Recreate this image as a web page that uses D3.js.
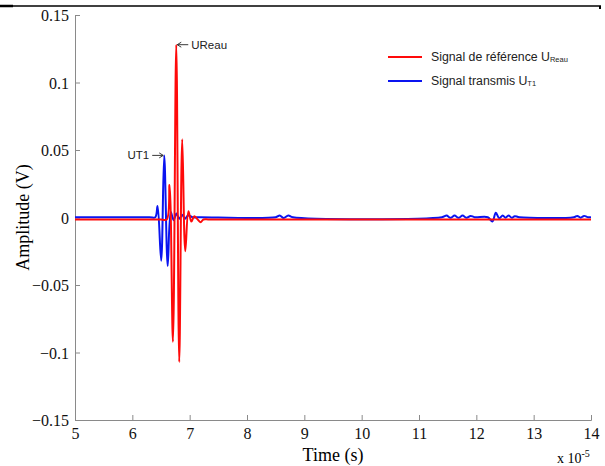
<!DOCTYPE html>
<html>
<head>
<meta charset="utf-8">
<script src="https://cdn.jsdelivr.net/npm/d3@7"></script>
<style>
  body { margin: 0; background: #fff; }
  svg { display: block; }
</style>
</head>
<body>
<div id="chart"></div>
<script>
// Reference signal (red), time in units of 1e-5 s
const refTime = [5, 6.5, 6.6, 6.649, 6.708, 6.766, 6.818, 6.87, 6.923, 6.978, 7.03, 7.08, 7.13, 7.19, 7.24, 7.35, 14];
const refAmp = [-0.0015, -0.0015, -0.0015, 0.024, -0.092, 0.128, -0.107, 0.058, -0.025, 0.0047, -0.003, 0.001, -0.001, -0.0035, -0.0015, -0.0015, -0.0015];

// Transmitted signal (blue)
const trTime = [5, 6.3, 6.4, 6.44, 6.503, 6.556, 6.617, 6.67, 6.72, 6.77, 6.82, 6.87, 6.92, 6.97, 7.05, 7.2,
  8.5, 8.57, 8.64, 8.72, 8.8,
  11.4, 11.48, 11.55, 11.62, 11.69, 11.76, 11.83, 11.9, 11.97,
  12.2, 12.28, 12.34, 12.4, 12.46, 12.51, 12.56, 12.62, 12.67, 12.75,
  13.7, 13.76, 13.82, 13.88, 13.95, 14];
const trAmp = [0.0002, 0.0002, 0.0002, 0.0085, -0.032, 0.046, -0.036, 0.004, -0.002, 0.003, -0.001, 0.002, -0.001, 0.0015, 0.0002, 0.0002,
  0.0002, 0.0015, -0.0004, 0.0015, 0.0002,
  0.0002, 0.0014, -0.0002, 0.0014, -0.0002, 0.0014, -0.0002, 0.0012, 0.0002,
  0.0002, -0.003, 0.0035, -0.0006, 0.0015, -0.0002, 0.0015, -0.0002, 0.001, 0.0002,
  0.0002, 0.0012, -0.0002, 0.0012, 0.0002, 0.0002];

const xTicks = [5, 6, 7, 8, 9, 10, 11, 12, 13, 14];
const yTicks = [0.15, 0.1, 0.05, 0, -0.05, -0.1, -0.15];

const width = 605, height = 466;
const margin = { top: 15, right: 14, bottom: 46, left: 75 };
const serif = "'Liberation Serif', 'Times New Roman', serif";
const sans = "'Liberation Sans', Arial, sans-serif";

const svg = d3.select("#chart").append("svg")
    .attr("width", width)
    .attr("height", height);

// Scales
const x = d3.scaleLinear().domain([5, 14]).range([margin.left, width - margin.right]);
const y = d3.scaleLinear().domain([-0.15, 0.15]).range([height - margin.bottom, margin.top]);

// Top rule of the page
svg.append("line").attr("x1", 0).attr("x2", 601).attr("y1", 6).attr("y2", 6)
    .attr("stroke", "#000").attr("stroke-width", 1.3);
svg.append("line").attr("x1", 0).attr("x2", 13).attr("y1", 6).attr("y2", 6)
    .attr("stroke", "#000").attr("stroke-width", 2.5);
svg.append("line").attr("x1", 600).attr("x2", 600).attr("y1", 6).attr("y2", 9)
    .attr("stroke", "#000").attr("stroke-width", 2);

// Axes, ticks pointing inward
const axisColor = "#8a8a8a";
const xAxis = svg.append("g")
    .attr("transform", `translate(0,${y(-0.15)})`)
    .call(d3.axisBottom(x).tickValues(xTicks).tickSize(-5).tickPadding(8).tickFormat(d3.format("d")));
const yAxis = svg.append("g")
    .attr("transform", `translate(${x(5)},0)`)
    .call(d3.axisLeft(y).tickValues(yTicks).tickSize(-5).tickPadding(6).tickFormat(d => d === 0 ? "0" : d3.format("")(d)));

[xAxis, yAxis].forEach(ax => {
    ax.attr("font-family", serif).attr("font-size", 16);
    ax.select(".domain").attr("stroke", axisColor).attr("stroke-width", 1);
    ax.selectAll(".tick line").attr("stroke", axisColor);
    ax.selectAll(".tick text").attr("fill", "#111").style("font-family", serif);
});
yAxis.selectAll(".tick text").attr("dy", "0.35em");

// Clip region
svg.append("clipPath").attr("id", "plot-clip")
    .append("rect")
    .attr("x", x(5)).attr("y", y(0.15))
    .attr("width", x(14) - x(5)).attr("height", y(-0.15) - y(0.15));

const line = d3.line()
    .x(d => x(d[0]))
    .y(d => y(d[1]))
    .curve(d3.curveCatmullRom.alpha(0.5));

const plot = svg.append("g").attr("clip-path", "url(#plot-clip)");

plot.append("path")
    .datum(trTime.map((t, i) => [t, trAmp[i]]))
    .attr("fill", "none")
    .attr("stroke", "#0a14f0")
    .attr("stroke-width", 2)
    .attr("d", line);

plot.append("path")
    .datum(refTime.map((t, i) => [t, refAmp[i]]))
    .attr("fill", "none")
    .attr("stroke", "#ff0a0a")
    .attr("stroke-width", 2)
    .attr("d", line);

// Axis labels
svg.append("text")
    .attr("x", 333).attr("y", 461)
    .attr("text-anchor", "middle")
    .attr("font-family", serif)
    .attr("font-size", 18)
    .text("Time (s)");

svg.append("text")
    .attr("transform", `translate(29,${y(0)}) rotate(-90)`)
    .attr("text-anchor", "middle")
    .attr("font-family", serif)
    .attr("font-size", 18)
    .text("Amplitude (V)");

const expo = svg.append("text")
    .attr("x", 557).attr("y", 463)
    .attr("font-family", serif)
    .attr("font-size", 14);
expo.append("tspan").text("x 10");
expo.append("tspan").attr("dy", -6).attr("font-size", 10).text("-5");

// Annotations (arrow drawn as a line with a small head)
function arrow(x1, x2, yy) {
    const dir = Math.sign(x2 - x1);
    svg.append("line")
        .attr("x1", x1).attr("x2", x2).attr("y1", yy).attr("y2", yy)
        .attr("stroke", "#222").attr("stroke-width", 0.9);
    svg.append("path")
        .attr("d", `M${x2 - dir * 4},${yy - 2.5} L${x2},${yy} L${x2 - dir * 4},${yy + 2.5}`)
        .attr("fill", "none").attr("stroke", "#222").attr("stroke-width", 0.9);
}

const peakRefX = x(6.766), peakRefY = y(0.128);
arrow(peakRefX + 12, peakRefX + 1, peakRefY);
svg.append("text")
    .attr("x", peakRefX + 15).attr("y", peakRefY + 4)
    .attr("font-family", sans).attr("font-size", 11.5)
    .attr("fill", "#222")
    .text("UReau");

const peakTrX = x(6.556), peakTrY = y(0.046);
arrow(peakTrX - 12, peakTrX - 1, peakTrY);
svg.append("text")
    .attr("x", peakTrX - 15).attr("y", peakTrY + 4)
    .attr("text-anchor", "end")
    .attr("font-family", sans).attr("font-size", 11.5)
    .attr("fill", "#222")
    .text("UT1");

// Legend
const legendItems = [
    { color: "#ff0a0a", label: "Signal de référence U", sub: "Reau", y: 57 },
    { color: "#0a14f0", label: "Signal transmis U", sub: "T1", y: 81 }
];
const legend = svg.append("g");
legendItems.forEach(item => {
    legend.append("line")
        .attr("x1", 388).attr("x2", 422)
        .attr("y1", item.y).attr("y2", item.y)
        .attr("stroke", item.color).attr("stroke-width", 2);
    const t = legend.append("text")
        .attr("x", 431).attr("y", item.y + 4)
        .attr("fill", "#222")
        .attr("font-family", sans)
        .attr("font-size", 12.3);
    t.append("tspan").text(item.label);
    t.append("tspan").attr("dy", 1).attr("font-size", 7.5).text(item.sub);
});
</script>
</body>
</html>
